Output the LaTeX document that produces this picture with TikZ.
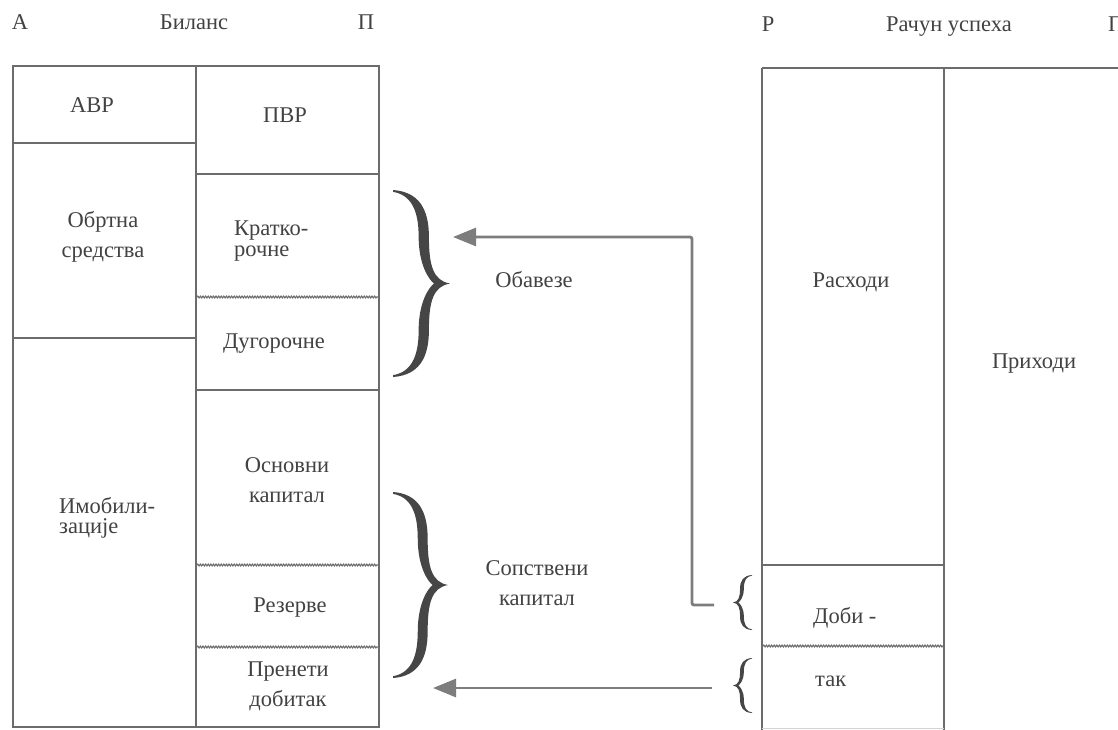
\documentclass[tikz,border=0pt]{standalone}
\usepackage{fontspec}
\setmainfont{Liberation Serif}
\usetikzlibrary{arrows.meta,decorations.pathmorphing}

\definecolor{rule}{RGB}{108,108,108}
\definecolor{ink}{RGB}{66,66,66}
\definecolor{arrowgray}{RGB}{125,125,125}
\definecolor{bracegray}{RGB}{70,70,70}

% Filled curly brace in a unit box: open ends at u=0, tip at (1,0.5).
% #1 = stroke thickness of the arms (in u units)
\newcommand\curlyshape[1]{%
  \fill (0,0) .. controls (0.45,0.01) and (0.63,0.1) .. (0.63,0.25)
    .. controls (0.63,0.4) and (0.7,0.485) .. (1,0.5)
    .. controls (0.7,0.515) and (0.63,0.6) .. (0.63,0.75)
    .. controls (0.63,0.9) and (0.45,0.99) .. (0,1)
    -- (0,0.99)
    .. controls (0.3,0.975) and ({0.63-#1},0.9) .. ({0.63-#1},0.75)
    .. controls ({0.63-#1},0.6) and (0.63,0.52) .. (0.72,0.5)
    .. controls (0.63,0.48) and ({0.63-#1},0.4) .. ({0.63-#1},0.25)
    .. controls ({0.63-#1},0.1) and (0.3,0.025) .. (0,0.01) -- cycle;}

\tikzset{
  frame/.style={draw=rule, line width=2.6pt},
  wavy/.style={draw=rule, line width=1.1pt,
    decorate, decoration={snake, amplitude=0.9pt, segment length=2.6pt}},
  lbl/.style={font=\fontsize{22.5}{30}\selectfont, text=ink, inner sep=0pt},
  tight/.style={font=\fontsize{22.5}{20.5}\selectfont},
  arr/.style={draw=arrowgray, line width=2.8pt, rounded corners=2pt,
    -{Triangle[length=23pt, width=18pt]}},
}

\begin{document}
\begin{tikzpicture}[x=1pt, y=-1pt]
\useasboundingbox (0,0) rectangle (1118,729);
\clip (0,0) rectangle (1118,729);
\fill[white] (0,0) rectangle (1118,729);

% ---------- balance sheet ----------
\node[lbl, anchor=base] (bA) at (20,29) {А};
\node[lbl, anchor=base] (bTitle) at (194,29) {Биланс};
\node[lbl, anchor=base] (bP) at (366,29) {П};

\draw[frame] (13,66) rectangle (379,727);
\draw[frame] (196,66) -- (196,727);
% assets column
\draw[frame] (13,143) -- (196,143);
\draw[frame] (13,338) -- (196,338);
% liabilities column
\draw[frame] (196,174) -- (379,174);
\draw[frame] (196,390) -- (379,390);
\draw[wavy] (197,297) -- (378,297);
\draw[wavy] (197,565) -- (378,565);
\draw[wavy] (197,647) -- (378,647);

\node[lbl, anchor=base] (avr) at (92,112) {АВР};
\node[lbl, anchor=base] (pvr) at (285,122) {ПВР};
\node[lbl, anchor=north, align=center] (obrtna) at (103,211) {Обртна\\средства};
\node[lbl, tight, anchor=north west, align=left] (kratko) at (234,221) {Кратко-\\рочне};
\node[lbl, anchor=base] (dugo) at (274,348) {Дугорочне};
\node[lbl, anchor=north, align=center] (osnovni) at (287,457) {Основни\\капитал};
\node[lbl, tight, anchor=north west, align=left] (imob) at (59,497) {Имобили-\\зације};
\node[lbl, anchor=base] (rezerve) at (290,612) {Резерве};
\node[lbl, anchor=north, align=center] (preneti) at (288,662) {Пренети\\добитак};

% ---------- braces and their labels ----------
\begin{scope}[bracegray, shift={(393,190)}, x=57pt, y=-187pt]
  \curlyshape{0.18}
\end{scope}
\begin{scope}[bracegray, shift={(393,492)}, x=55pt, y=-186pt]
  \curlyshape{0.18}
\end{scope}
\node[lbl, anchor=base] (obavez) at (534,287) {Обавезе};
\node[lbl, anchor=north, align=center] (sopst) at (537,560) {Сопствени\\капитал};

% ---------- income statement ----------
\node[lbl, anchor=base] (rR) at (768,31) {Р};
\node[lbl, anchor=base] (rTitle) at (949,31) {Рачун успеха};
\node[lbl, anchor=base west] (rP) at (1108,31) {П};

\draw[frame] (762,68) -- (1130,68);
\draw[frame] (762,68) -- (762,735);
\draw[frame] (944,68) -- (944,735);
\draw[frame] (762,565) -- (944,565);
\draw[wavy] (763,646) -- (943,646);
\draw[draw=rule!30, line width=1pt] (762,728) -- (944,728);

\node[lbl, anchor=base] (rashodi) at (851,287) {Расходи};
\node[lbl, anchor=base] (prihodi) at (1034,368) {Приходи};
\node[lbl, anchor=base west] (dobi) at (813,623) {Доби -};
\node[lbl, anchor=base west] (tak) at (815,686) {так};

\begin{scope}[bracegray, shift={(752,575)}, x=-19pt, y=-55pt]
  \curlyshape{0.2}
\end{scope}
\begin{scope}[bracegray, shift={(752,658)}, x=-19pt, y=-55pt]
  \curlyshape{0.2}
\end{scope}

% ---------- transfer arrows ----------
\coordinate (dobitOut) at (714,605);
\coordinate (obavIn) at (453,237);
\coordinate (takOut) at (712,688);
\coordinate (prenetiIn) at (433,688);
\draw[arr] (dobitOut) -- ++(-22,0) |- (obavIn);
\draw[arr] (takOut) -- (prenetiIn);
\end{tikzpicture}
\end{document}
